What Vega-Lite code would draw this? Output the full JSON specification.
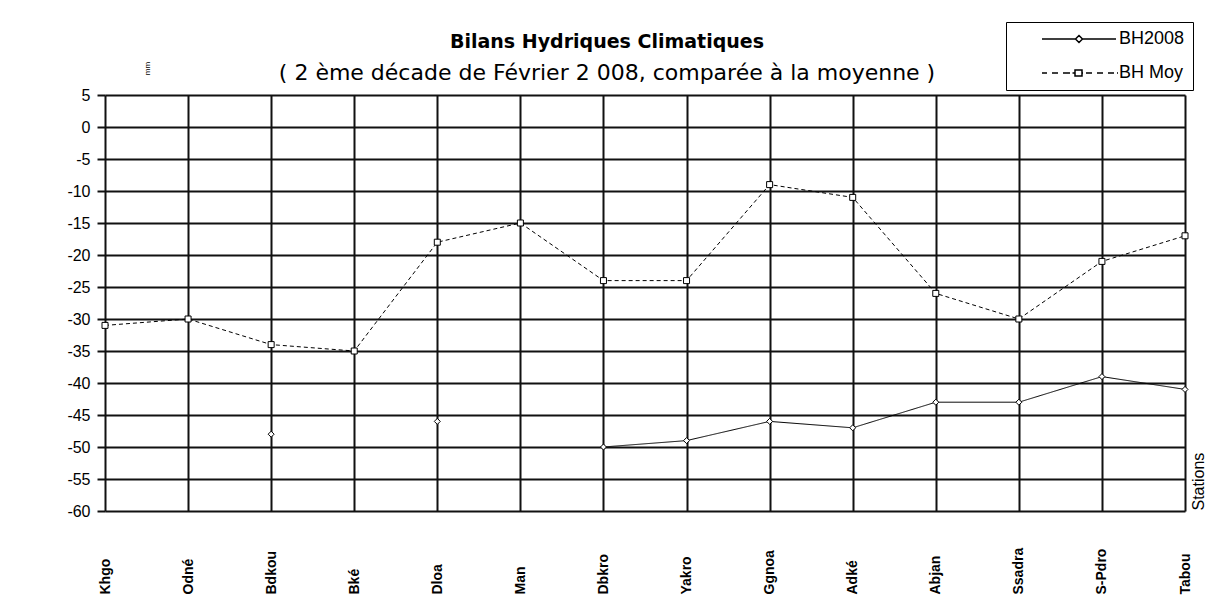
{
  "$schema": "https://vega.github.io/schema/vega-lite/v6.json",
  "autosize": {"type": "none"},
  "width": 1080,
  "height": 416,
  "padding": {"left": 105, "top": 95, "right": 33, "bottom": 92},
  "background": "white",
  "config": {
    "view": {"stroke": null},
    "font": "Liberation Sans"
  },
  "title": {
    "text": "Bilans Hydriques Climatiques",
    "subtitle": "( 2 ème décade de Février  2 008, comparée à la moyenne )",
    "anchor": "middle",
    "dx": -38,
    "dy": 76,
    "offset": 14,
    "font": "DejaVu Sans",
    "fontSize": 19,
    "fontWeight": "bold",
    "color": "#000",
    "subtitleFont": "DejaVu Sans",
    "subtitleFontSize": 22,
    "subtitleColor": "#000",
    "subtitlePadding": 11
  },
  "data": {
    "values": [
      {"station": "Khgo", "series": "BH2008", "value": null},
      {"station": "Odné", "series": "BH2008", "value": null},
      {"station": "Bdkou", "series": "BH2008", "value": -48},
      {"station": "Bké", "series": "BH2008", "value": null},
      {"station": "Dloa", "series": "BH2008", "value": -46},
      {"station": "Man", "series": "BH2008", "value": null},
      {"station": "Dbkro", "series": "BH2008", "value": -50},
      {"station": "Yakro", "series": "BH2008", "value": -49},
      {"station": "Ggnoa", "series": "BH2008", "value": -46},
      {"station": "Adké", "series": "BH2008", "value": -47},
      {"station": "Abjan", "series": "BH2008", "value": -43},
      {"station": "Ssadra", "series": "BH2008", "value": -43},
      {"station": "S-Pdro", "series": "BH2008", "value": -39},
      {"station": "Tabou", "series": "BH2008", "value": -41},
      {"station": "Khgo", "series": "BH Moy", "value": -31},
      {"station": "Odné", "series": "BH Moy", "value": -30},
      {"station": "Bdkou", "series": "BH Moy", "value": -34},
      {"station": "Bké", "series": "BH Moy", "value": -35},
      {"station": "Dloa", "series": "BH Moy", "value": -18},
      {"station": "Man", "series": "BH Moy", "value": -15},
      {"station": "Dbkro", "series": "BH Moy", "value": -24},
      {"station": "Yakro", "series": "BH Moy", "value": -24},
      {"station": "Ggnoa", "series": "BH Moy", "value": -9},
      {"station": "Adké", "series": "BH Moy", "value": -11},
      {"station": "Abjan", "series": "BH Moy", "value": -26},
      {"station": "Ssadra", "series": "BH Moy", "value": -30},
      {"station": "S-Pdro", "series": "BH Moy", "value": -21},
      {"station": "Tabou", "series": "BH Moy", "value": -17}
    ]
  },
  "encoding": {
    "x": {
      "field": "station",
      "type": "nominal",
      "sort": null,
      "scale": {"type": "point", "padding": 0},
      "axis": {
        "title": "Stations",
        "titleFont": "Liberation Sans",
        "titleFontSize": 16,
        "titleFontWeight": "normal",
        "titleColor": "#000",
        "titleAngle": -90,
        "titleAlign": "left",
        "titleBaseline": "middle",
        "titleX": 1093,
        "titleY": -1,
        "labelAngle": -90,
        "labelAlign": "left",
        "labelBaseline": "middle",
        "labelPadding": 83,
        "labelFont": "Liberation Sans",
        "labelFontSize": 14,
        "labelFontWeight": "bold",
        "labelColor": "#000",
        "labelOverlap": false,
        "ticks": false,
        "tickSize": 0,
        "domain": false,
        "grid": true,
        "gridColor": "#111",
        "gridWidth": 2,
        "gridOpacity": 1
      }
    },
    "y": {
      "field": "value",
      "type": "quantitative",
      "scale": {"domain": [-60, 5], "nice": false, "zero": false},
      "axis": {
        "title": "mm",
        "titleFont": "Liberation Sans",
        "titleFontSize": 8,
        "titleFontWeight": "normal",
        "titleColor": "#000",
        "titleAngle": -90,
        "titleAlign": "center",
        "titleBaseline": "middle",
        "titleX": 42,
        "titleY": -27,
        "values": [5, 0, -5, -10, -15, -20, -25, -30, -35, -40, -45, -50, -55, -60],
        "labelExpr": "replace(datum.label, '\u2212', '-')",
        "labelFont": "Liberation Sans",
        "labelFontSize": 16,
        "labelColor": "#000",
        "labelPadding": 7,
        "tickSize": 8,
        "tickColor": "#111",
        "tickWidth": 2,
        "domain": false,
        "grid": true,
        "gridColor": "#111",
        "gridWidth": 2,
        "gridOpacity": 1
      }
    }
  },
  "layer": [
    {
      "mark": {"type": "line", "color": "#000", "strokeWidth": 1, "invalid": "break-paths-filter-domains"},
      "encoding": {
        "detail": {"field": "series", "type": "nominal"},
        "strokeDash": {
          "condition": {"test": "datum.series === 'BH Moy'", "value": [4, 3]},
          "value": [1, 0]
        }
      }
    },
    {
      "mark": {"type": "point", "filled": false, "fill": "white", "fillOpacity": 1, "stroke": "#000", "strokeWidth": 1, "opacity": 1, "size": 36},
      "encoding": {
        "shape": {
          "condition": {"test": "datum.series === 'BH Moy'", "value": "square"},
          "value": "diamond"
        }
      }
    },
    {
      "mark": {"type": "point", "filled": false, "fill": "white", "fillOpacity": 1, "stroke": "#000", "strokeWidth": 1, "opacity": 1, "size": 100, "clip": true},
      "encoding": {
        "y": {"datum": 1000},
        "shape": {
          "field": "series",
          "type": "nominal",
          "scale": {
            "domain": ["BH2008", "BH Moy"],
            "range": [
              "M3.8,0L10.5,0M11.9,0L18.6,0M11.2,-0.7L11.9,0L11.2,0.7L10.5,0Z",
              "M3.8,0L4.8,0M5.8,0L7.0,0M8.0,0L9.4,0M9.9,0L10.4,0M11.8,0L12.0,0M12.6,0L13.8,0M14.8,0L16.0,0M17.0,0L18.2,0M18.8,0L19.0,0M10.4,-0.6L11.8,-0.6L11.8,0.6L10.4,0.6Z"
            ]
          },
          "legend": {
            "title": null,
            "orient": "none",
            "legendX": 901,
            "legendY": -73,
            "direction": "vertical",
            "strokeColor": "#000",
            "fillColor": "white",
            "padding": 8,
            "rowPadding": 16,
            "labelOffset": 87,
            "labelFont": "Liberation Sans",
            "labelFontSize": 18,
            "labelColor": "#000",
            "labelExpr": "datum.label + '\u00a0\u00a0\u00a0\u00a0\u00a0\u00a0\u00a0\u00a0\u00a0\u00a0'"
          }
        }
      }
    }
  ]
}
